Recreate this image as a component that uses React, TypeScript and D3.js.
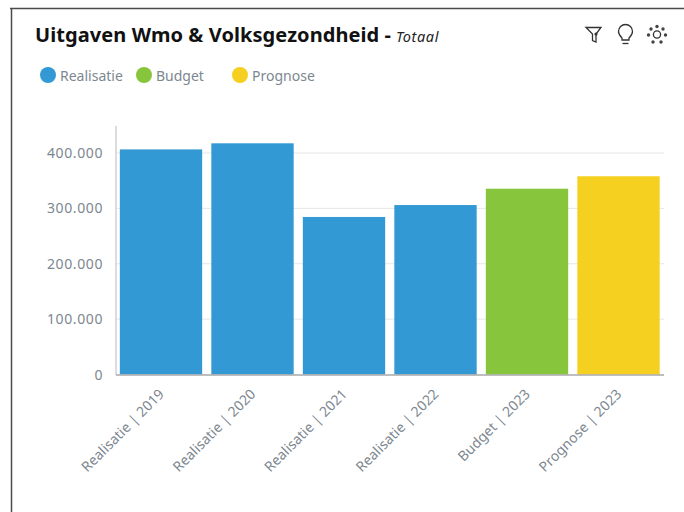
import React from "react";
import * as d3 from "d3";

const categories = ["Realisatie | 2019", "Realisatie | 2020", "Realisatie | 2021", "Realisatie | 2022", "Budget | 2023", "Prognose | 2023"];
const values = [406500, 417500, 284500, 306000, 335500, 358000];
const groups = ["Realisatie", "Realisatie", "Realisatie", "Realisatie", "Budget", "Prognose"];
const legendLabels = ["Realisatie", "Budget", "Prognose"];
const legendX = [48, 144, 240];
const legendColors = ["#3299d4", "#86c53c", "#f5d020"];
const yTicks = [0, 100000, 200000, 300000, 400000];

const FONT = "'Noto Sans', sans-serif";
const x = d3.scaleBand<string>().domain(categories).range([115.25, 664.25]).paddingInner(0.1).paddingOuter(0.05);
const y = d3.scaleLinear().domain([0, 400000]).range([374.5, 153]);
const color = d3.scaleOrdinal<string, string>().domain(legendLabels).range(legendColors);
const fmt = (v: number) => d3.format(",")(v).replace(/,/g, ".");

export default function App() {
  return (
    <svg width={684} height={512} style={{ position: "absolute", left: 0, top: 0, background: "#fff" }} fontFamily={FONT}>
      <path d="M10 8.5H684M11.5 8V512" stroke="#4a4a4a" strokeWidth={1.5} fill="none" />
      <text x={35} y={42} fontSize={20} fontWeight={700} letterSpacing={0.08} fill="#111">Uitgaven Wmo &amp; Volksgezondheid -</text>
      <text x={396} y={42} fontSize={14.5} letterSpacing={0.6} fontStyle="italic" fill="#222">Totaal</text>

      <g fill="none" stroke="#333" strokeWidth={1.3}>
        <path d="M586 27.500H601L596 34V42L592.500 40.500V34Z" />
        <circle cx={596} cy={34} r={1.6} fill="#333" stroke="none" />
        <path d="M622 38C619.500 35.500 618.500 33.500 618.500 31.500A7 7 0 0 1 632.500 31.500C632.500 33.500 631.500 35.500 629 38V40H622Z" />
        <path d="M622.500 43.500H628.500" />
        <circle cx={657} cy={34.500} r={3.6} />
      </g>
      <g fill="#444">
        {[[657, 26.500], [663, 29], [665.500, 35], [661, 42], [653, 42], [648.500, 35], [651, 29]].map(([cx, cy], i) => (
          <circle key={i} cx={cx} cy={cy} r={1.7} />
        ))}
      </g>

      {legendLabels.map((l, i) => (
        <g key={l}>
          <circle cx={legendX[i]} cy={75} r={8} fill={color(l)} />
          <text x={legendX[i] + 12} y={81} fontSize={14} fill="#7d8790">{l}</text>
        </g>
      ))}

      {yTicks.map((t) => (
        <g key={t}>
          {t > 0 && <line x1={116} x2={664} y1={y(t)} y2={y(t)} stroke="#e6e6e6" />}
          <text x={103} y={y(t) + 5} fontSize={14} letterSpacing={0.6} textAnchor="end" fill="#7d8790">{fmt(t)}</text>
        </g>
      ))}

      {categories.map((c, i) => (
        <rect key={c} x={x(c)} y={y(values[i])} width={x.bandwidth()} height={y(0) - y(values[i])} fill={color(groups[i])} />
      ))}

      <line x1={116} x2={116} y1={126} y2={375} stroke="#d0d0d0" strokeWidth={1.5} />
      <line x1={116} x2={664} y1={375} y2={375} stroke="#a8a8a8" strokeWidth={1.5} />

      {categories.map((c) => {
        const cx = x(c)! + x.bandwidth() / 2;
        return (
          <text key={c} transform={`translate(${cx + 4},${395}) rotate(-45)`} fontSize={14} textAnchor="end" fill="#7d8790">{c}</text>
        );
      })}
    </svg>
  );
}
